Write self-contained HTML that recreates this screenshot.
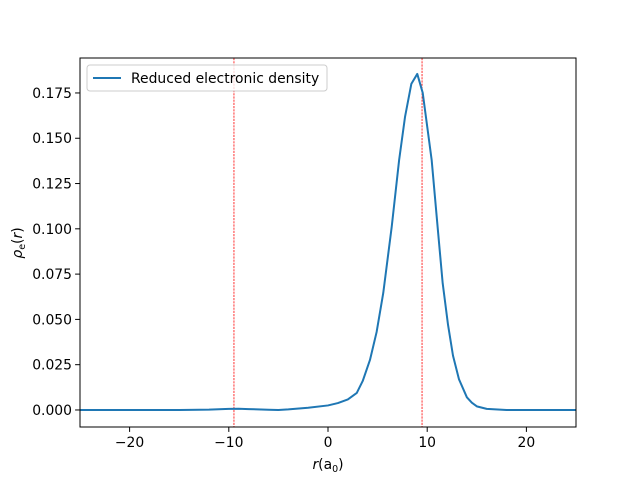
<!DOCTYPE html>
<html><head><meta charset="utf-8"><style>
body{margin:0;background:#fff;position:relative}
svg text{font-family:"DejaVu Sans","Liberation Sans",sans-serif;font-size:13.9px;fill:#000}
</style></head><body>
<svg id="chart" width="640" height="480" xmlns="http://www.w3.org/2000/svg">
<rect width="640" height="480" fill="#fff"/>
<g id="plot"></g>
</svg>
<script>
const xValues=[-25,-15,-12,-10,-9,-8,-6,-5,-4,-2,0,1,2,2.9,3.5,4.23,4.9,5.57,6.42,7.17,7.77,8.4,9.0,9.55,10.45,11.05,11.56,12.1,12.6,13.2,14,14.5,15,16,18,20,25];
const yValues=[0,0,0.0002,0.0006,0.0007,0.0005,0.0001,0,0.0003,0.0012,0.0025,0.0038,0.0058,0.0094,0.016,0.0276,0.043,0.0646,0.101,0.138,0.162,0.180,0.1855,0.175,0.138,0.101,0.070,0.047,0.030,0.017,0.007,0.004,0.002,0.0006,0,0,0];
const xTicks=[-20,-10,0,10,20];
const yTicks=[0,0.025,0.05,0.075,0.1,0.125,0.15,0.175];
const vLines=[-9.48,9.48];
const L=80,R=576,T=58,B=427,xmin=-25,xmax=25,ymin=-0.0094,ymax=0.1943;
const sx=v=>L+(v-xmin)/(xmax-xmin)*(R-L);
const sy=v=>B-(v-ymin)/(ymax-ymin)*(B-T);
const g=document.getElementById('plot');
const NS='http://www.w3.org/2000/svg';
function mk(t,a){const e=document.createElementNS(NS,t);for(const k in a)e.setAttribute(k,a[k]);g.appendChild(e);return e;}
vLines.forEach(v=>{const l=mk('line',{x1:sx(v),x2:sx(v),y1:T,y2:B,stroke:'red','stroke-width':0.8,'stroke-dasharray':'2.2,1'});

});
const p=mk('polyline',{points:xValues.map((x,i)=>sx(x)+','+sy(yValues[i])).join(' '),fill:'none',stroke:'#1f77b4','stroke-width':2,'stroke-linejoin':'round'});


const fr=mk('rect',{x:L,y:T,width:R-L,height:B-T,fill:'none',stroke:'#000','stroke-width':1});


xTicks.forEach(v=>{mk('line',{x1:sx(v),x2:sx(v),y1:B,y2:B+4.9,stroke:'#000','stroke-width':1});
const t=mk('text',{x:sx(v),y:B+20,'text-anchor':'middle'});t.textContent=(v<0?'\u2212'+(-v):v);

});
yTicks.forEach(v=>{mk('line',{x1:L-4.9,x2:L,y1:sy(v),y2:sy(v),stroke:'#000','stroke-width':1});
const t=mk('text',{x:L-8,y:sy(v)+5,'text-anchor':'end'});t.textContent=v.toFixed(3);

});
</script>
<svg width="640" height="480" style="position:absolute;left:0;top:0" xmlns="http://www.w3.org/2000/svg">
<text x="328" y="469" text-anchor="middle"><tspan font-style="italic">r</tspan>(a<tspan font-size="9.5" dy="3">0</tspan><tspan dy="-3">)</tspan></text>
<text transform="translate(22,243) rotate(-90)" text-anchor="middle"><tspan font-style="italic">ρ</tspan><tspan font-size="9.5" dy="3">e</tspan><tspan dy="-3">(</tspan><tspan font-style="italic">r</tspan>)</text>
<g>
<rect x="87" y="65" width="240" height="26" rx="3" fill="#fff" fill-opacity="0.8" stroke="#ccc" stroke-width="1"/>
<line x1="93" x2="121" y1="78" y2="78" stroke="#1f77b4" stroke-width="2"/>
<text x="131" y="83">Reduced electronic density</text>
</g>
</svg>
</body></html>
